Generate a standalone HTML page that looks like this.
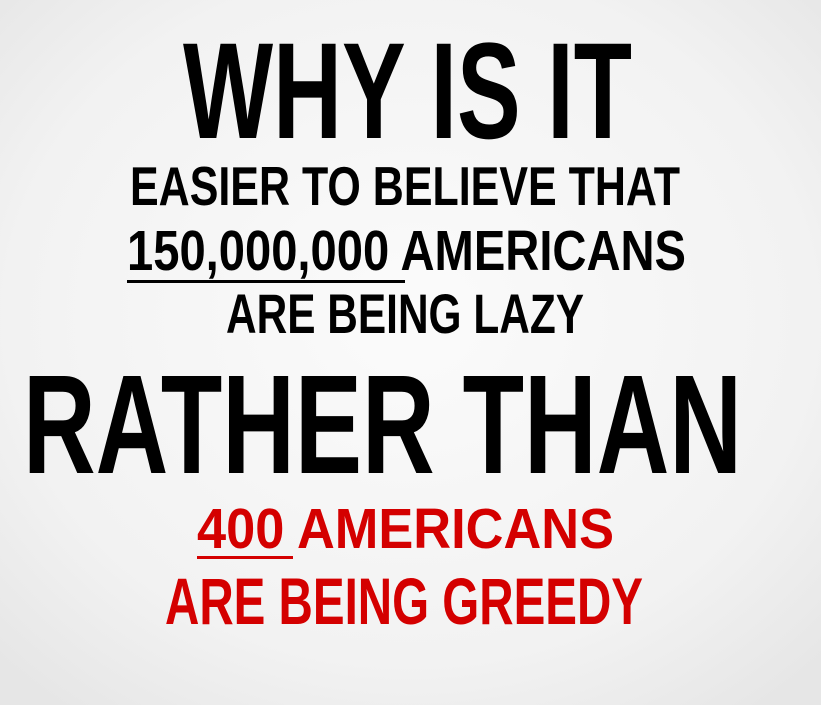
<!DOCTYPE html>
<html>
<head>
<meta charset="utf-8">
<style>
  html, body { margin: 0; padding: 0; }
  body { width: 821px; height: 705px; overflow: hidden; }
  svg { display: block; }
  text { font-family: "Liberation Sans", "DejaVu Sans", sans-serif; font-weight: bold; }
</style>
</head>
<body>
<svg width="821" height="705" viewBox="0 0 821 705" xmlns="http://www.w3.org/2000/svg">
  <defs>
    <radialGradient id="bg" cx="50%" cy="45%" r="70%">
      <stop offset="0%" stop-color="#fbfbfb"/>
      <stop offset="70%" stop-color="#f2f2f2"/>
      <stop offset="100%" stop-color="#e6e6e6"/>
    </radialGradient>
  </defs>
  <rect x="0" y="0" width="821" height="705" fill="url(#bg)"/>

  <text x="183" y="138" font-size="137" textLength="449" lengthAdjust="spacingAndGlyphs" fill="#000">WHY IS IT</text>
  <text x="130" y="205" font-size="55" textLength="550" lengthAdjust="spacingAndGlyphs" fill="#000">EASIER TO BELIEVE THAT</text>
  <text x="127" y="270" font-size="57" textLength="559" lengthAdjust="spacingAndGlyphs" fill="#000">150,000,000 AMERICANS</text>
  <rect x="127" y="280" width="278" height="3" fill="#000"/>
  <text x="226" y="333" font-size="56" textLength="358" lengthAdjust="spacingAndGlyphs" fill="#000">ARE BEING LAZY</text>
  <text x="23" y="473" font-size="141" textLength="719" lengthAdjust="spacingAndGlyphs" fill="#000">RATHER THAN</text>
  <text x="197" y="548" font-size="57" textLength="417" lengthAdjust="spacingAndGlyphs" fill="#d40000">400 AMERICANS</text>
  <rect x="197" y="556" width="96" height="3" fill="#d40000"/>
  <text x="165" y="624" font-size="66" textLength="478" lengthAdjust="spacingAndGlyphs" fill="#d40000">ARE BEING GREEDY</text>
</svg>
</body>
</html>
